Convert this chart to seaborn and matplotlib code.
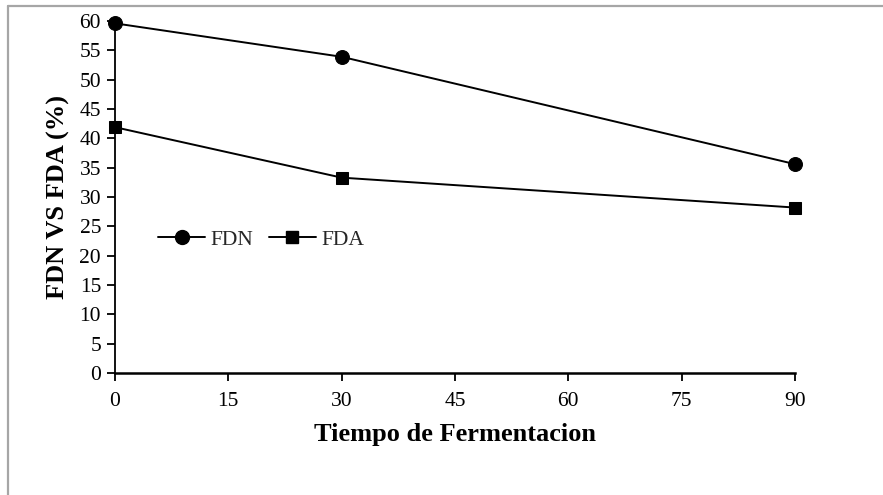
import matplotlib
matplotlib.use("Agg")
import matplotlib.pyplot as plt
import seaborn as sns
import pandas as pd
from matplotlib.lines import Line2D

dias = [0, 30, 90]
fdn = [59.6, 53.9, 35.6]
fda = [41.9, 33.3, 28.2]
series_names = ["FDN", "FDA"]
x_ticks = [0, 15, 30, 45, 60, 75, 90]
y_ticks = list(range(0, 61, 5))

df = pd.DataFrame({
    "t": dias + dias,
    "v": fdn + fda,
    "serie": [series_names[0]] * len(dias) + [series_names[1]] * len(dias),
})

sns.set_style("white")
plt.rcParams["font.family"] = ["Liberation Serif", "DejaVu Serif"]

W, H = 883, 495
fig = plt.figure(figsize=(W / 100, H / 100), dpi=100)
# axes: x 115..795 px, y 21..373 px
ax = fig.add_axes([115 / W, 1 - 373 / H, 680 / W, 352 / H])

sns.lineplot(data=df, x="t", y="v", hue="serie", style="serie",
             markers={"FDN": "o", "FDA": "s"}, dashes=False,
             palette={"FDN": "black", "FDA": "black"},
             linewidth=1.4, ax=ax, legend=False)
for ln, ms in zip(ax.lines, [10, 9]):
    ln.set_markersize(ms)
    ln.set_markeredgecolor("black")
    ln.set_clip_on(False)

ax.set_xlim(0, 90)
ax.set_ylim(0, 60)
ax.set_xticks(x_ticks)
ax.set_yticks(y_ticks)
ax.tick_params(axis="both", direction="out", length=6, width=1.3, color="black",
               labelsize=15.5, bottom=True, left=True, labelcolor="black")
ax.tick_params(axis="x", pad=8)
ax.tick_params(axis="y", pad=4)
for s in ["top", "right"]:
    ax.spines[s].set_visible(False)
ax.spines["left"].set_color("black")
ax.spines["left"].set_linewidth(1.3)
ax.spines["bottom"].set_color("black")
ax.spines["bottom"].set_linewidth(1.8)
ax.set_xlabel("Tiempo de Fermentacion", fontsize=19, fontweight="bold", labelpad=8, color="black")
ax.set_ylabel("FDN VS FDA (%)", fontsize=19, fontweight="bold", labelpad=7, color="black")

handles = [
    Line2D([], [], color="black", lw=1.4, marker="o", markersize=10),
    Line2D([], [], color="black", lw=1.4, marker="s", markersize=9),
]
ax.legend(handles, series_names, loc="center left",
          bbox_to_anchor=(43 / 680, (373 - 240) / 352), ncol=2, frameon=False,
          fontsize=15.5, handlelength=2.2, columnspacing=0.7, handletextpad=0.25,
          borderpad=0, borderaxespad=0)

border_c = "#a6a6a6"
fig.add_artist(Line2D([8 / W, 1.0], [1 - 5.5 / H, 1 - 5.5 / H], transform=fig.transFigure,
                      color=border_c, lw=1.6))
fig.add_artist(Line2D([8 / W, 8 / W], [0.0, 1 - 5.5 / H], transform=fig.transFigure,
                      color=border_c, lw=1.6))

fig.savefig("out.png", dpi=100)
